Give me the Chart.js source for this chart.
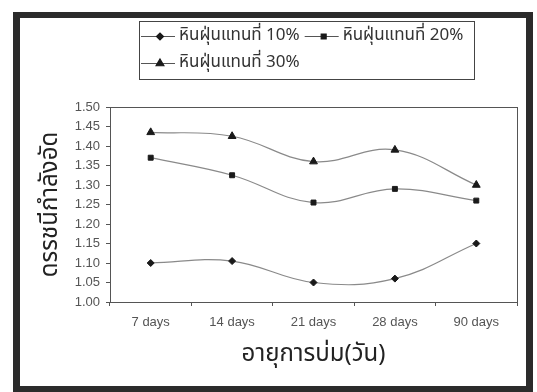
<!DOCTYPE html>
<html>
<head>
<meta charset="utf-8">
<script src="https://cdn.jsdelivr.net/npm/chart.js@4/dist/chart.umd.min.js"></script>
<style>
  html, body { margin: 0; padding: 0; background: #fff; }
  #wrap { width: 537px; height: 392px; position: relative; }
</style>
</head>
<body>
<div id="wrap"><canvas id="chart"></canvas></div>
<script>
// ข้อมูลจากกราฟ
const categories = ['7 days', '14 days', '21 days', '28 days', '90 days'];
const seriesLabels = ['หินฝุ่นแทนที่ 10%', 'หินฝุ่นแทนที่ 20%', 'หินฝุ่นแทนที่ 30%'];
const sub10 = [1.10, 1.105, 1.05, 1.06, 1.15];
const sub20 = [1.37, 1.325, 1.255, 1.29, 1.26];
const sub30 = [1.435, 1.425, 1.36, 1.39, 1.30];
const yMin = 1.00, yMax = 1.50, yStep = 0.05;

const thaiFont = "'Noto Sans Thai', 'Tahoma', 'Noto Sans', sans-serif";
const numFont = "'Liberation Sans', Arial, sans-serif";

// กรอบรอบภาพและพื้นหลัง
const framePlugin = {
    id: 'frame',
    beforeDraw(chart) {
        const ctx = chart.ctx;
        ctx.save();
        ctx.fillStyle = '#fff';
        ctx.fillRect(0, 0, chart.width, chart.height);
        ctx.fillStyle = '#2b2b2b';
        ctx.fillRect(13, 12, 520, 6);     // บน
        ctx.fillRect(13, 12, 7, 380);     // ซ้าย
        ctx.fillRect(526, 12, 7, 380);    // ขวา
        ctx.fillRect(13, 386, 520, 6);    // ล่าง
        ctx.restore();
    },
    beforeDatasetsDraw(chart) {
        // กรอบพื้นที่กราฟ
        const a = chart.chartArea;
        const ctx = chart.ctx;
        ctx.save();
        ctx.strokeStyle = '#555';
        ctx.lineWidth = 1;
        ctx.strokeRect(Math.round(a.left) + 0.5, Math.round(a.top) + 0.5,
            Math.round(a.right - a.left), Math.round(a.bottom - a.top));
        ctx.restore();
    }
};

// คำอธิบายสัญลักษณ์แบบมีกรอบ
const boxLegend = {
    id: 'boxLegend',
    afterDraw(chart) {
        const ctx = chart.ctx;
        const ds = chart.data.datasets;
        const box = { x: 139, y: 21, w: 335, h: 58 };
        ctx.save();
        ctx.strokeStyle = '#444';
        ctx.lineWidth = 1;
        ctx.strokeRect(box.x + 0.5, box.y + 0.5, box.w, box.h);
        ctx.font = '17px ' + thaiFont;
        ctx.textBaseline = 'middle';
        // สองรายการในแถวแรก หนึ่งรายการในแถวที่สอง
        const row1 = 36, row2 = 63;
        const w0 = ctx.measureText(ds[0].label).width;
        const spots = [
            { x: 141, y: row1 },
            { x: 141 + 38 + w0 + 5, y: row1 },
            { x: 141, y: row2 }
        ];
        ds.forEach((d, i) => {
            const s = spots[i];
            ctx.strokeStyle = '#555';
            ctx.lineWidth = 1.2;
            ctx.beginPath();
            ctx.moveTo(s.x, s.y + 0.5);
            ctx.lineTo(s.x + 34, s.y + 0.5);
            ctx.stroke();
            ctx.fillStyle = '#1a1a1a';
            ctx.strokeStyle = '#1a1a1a';
            Chart.helpers.drawPoint(ctx, {
                pointStyle: d.pointStyle,
                radius: d.pointRadius,
                rotation: 0,
                borderWidth: 1
            }, s.x + 19, s.y + 0.5);
            ctx.fillStyle = '#333';
            ctx.fillText(d.label, s.x + 38, s.y + 1);
        });
        ctx.restore();
    }
};

function makeSet(label, data, style, r) {
    return {
        label: label,
        data: data,
        borderColor: '#8a8a8a',
        borderWidth: 1.2,
        pointStyle: style,
        pointRadius: r,
        pointHoverRadius: r,
        pointBackgroundColor: '#1a1a1a',
        pointBorderColor: '#1a1a1a',
        pointBorderWidth: 1,
        tension: 0.4,
        fill: false
    };
}

const ctx = document.getElementById('chart').getContext('2d');
const chart = new Chart(ctx, {
    type: 'line',
    data: {
        labels: categories,
        datasets: [
            makeSet(seriesLabels[0], sub10, 'rectRot', 3.5),
            makeSet(seriesLabels[1], sub20, 'rect', 3.5),
            makeSet(seriesLabels[2], sub30, 'triangle', 4.5)
        ]
    },
    options: {
        responsive: true,
        maintainAspectRatio: false,
        animation: false,
        layout: { padding: { left: 20, right: 20, top: 107, bottom: 0 } },
        plugins: {
            legend: { display: false },
            tooltip: { enabled: false }
        },
        scales: {
            x: {
                offset: true,
                grid: {
                    offset: true,
                    drawOnChartArea: false,
                    drawTicks: true,
                    tickLength: 4,
                    color: '#555'
                },
                border: { color: '#555' },
                ticks: {
                    color: '#555',
                    font: { family: numFont, size: 13 },
                    padding: 9,
                    maxRotation: 0
                },
                title: {
                    display: true,
                    text: 'อายุการบ่ม(วัน)',
                    color: '#222',
                    font: { family: thaiFont, size: 24 },
                    padding: { top: 0, bottom: 21 }
                },
                afterFit(scale) { scale.height = 90; }
            },
            y: {
                min: yMin,
                max: yMax,
                grid: {
                    drawOnChartArea: false,
                    drawTicks: true,
                    tickLength: 4,
                    color: '#555'
                },
                border: { color: '#555' },
                ticks: {
                    stepSize: yStep,
                    color: '#555',
                    font: { family: numFont, size: 13 },
                    padding: 6,
                    callback: v => Number(v).toFixed(2)
                },
                title: {
                    display: true,
                    text: 'ดรรชนีกำลังอัด',
                    color: '#222',
                    font: { family: thaiFont, size: 24 },
                    padding: { top: 18, bottom: 0 }
                },
                afterFit(scale) { scale.width = 90; }
            }
        }
    },
    plugins: [framePlugin, boxLegend]
});
</script>
</body>
</html>
